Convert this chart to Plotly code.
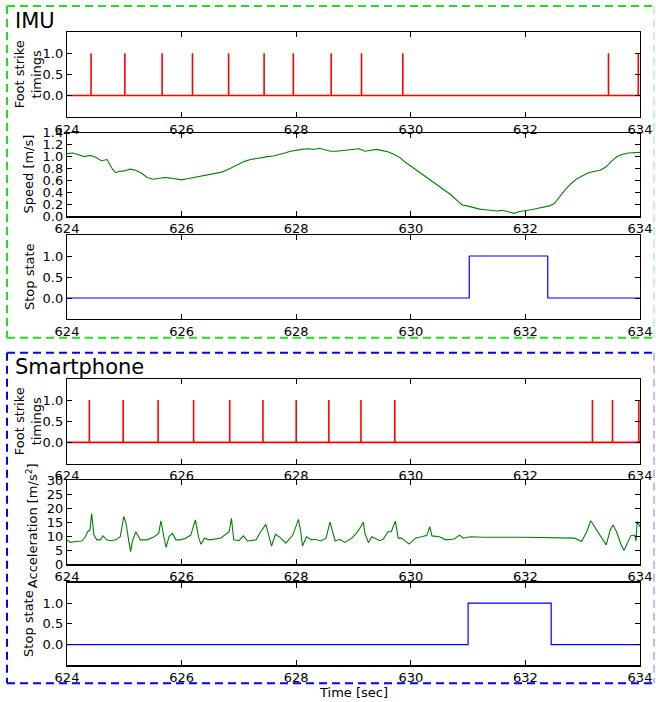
import plotly.graph_objects as go

W, H = 656, 702

# ---------------- data ----------------
x_ticks = [624, 626, 628, 630, 632, 634]

imu_strikes = [624.42, 625.01, 625.66, 626.19, 626.82, 627.44, 627.95,
               628.61, 629.14, 629.86, 633.45, 633.97]
phone_strikes = [624.39, 624.98, 625.59, 626.21, 626.84, 627.42, 628.00,
                 628.57, 629.13, 629.72, 633.17, 633.52, 633.98]

speed_t = [624.0, 624.1, 624.2, 624.3, 624.4, 624.5, 624.6, 624.7, 624.8, 624.85,
           624.9, 625.0, 625.1, 625.2, 625.3, 625.4, 625.5, 625.6, 625.7, 625.8,
           625.9, 626.0, 626.1, 626.2, 626.3, 626.4, 626.5, 626.6, 626.7, 626.8,
           626.9, 627.0, 627.1, 627.2, 627.3, 627.4, 627.5, 627.6, 627.7, 627.8,
           627.9, 628.0, 628.1, 628.2, 628.3, 628.4, 628.5, 628.6, 628.7, 628.8,
           628.9, 629.0, 629.1, 629.2, 629.3, 629.4, 629.5, 629.6, 629.7, 629.8,
           629.9, 630.0, 630.1, 630.2, 630.3, 630.4, 630.5, 630.6, 630.7, 630.8,
           630.9, 631.0, 631.1, 631.2, 631.3, 631.4, 631.5, 631.6, 631.7, 631.8,
           631.9, 632.0, 632.1, 632.2, 632.3, 632.4, 632.5, 632.6, 632.7, 632.8,
           632.9, 633.0, 633.1, 633.2, 633.3, 633.4, 633.5, 633.6, 633.7, 633.8,
           633.9, 634.0]
speed_v = [1.05, 1.06, 1.03, 1.00, 1.02, 0.99, 0.93, 0.95, 0.78, 0.73,
           0.75, 0.76, 0.79, 0.77, 0.72, 0.65, 0.62, 0.63, 0.65, 0.64,
           0.62, 0.61, 0.63, 0.65, 0.67, 0.68, 0.70, 0.72, 0.74, 0.78,
           0.83, 0.88, 0.92, 0.95, 0.97, 0.98, 1.00, 1.01, 1.03, 1.06,
           1.09, 1.11, 1.12, 1.13, 1.12, 1.14, 1.12, 1.09, 1.09, 1.10,
           1.10, 1.11, 1.13, 1.09, 1.11, 1.12, 1.10, 1.08, 1.04, 0.99,
           0.91, 0.84, 0.78, 0.71, 0.64, 0.57, 0.50, 0.43, 0.36, 0.27,
           0.19, 0.17, 0.14, 0.12, 0.11, 0.10, 0.09, 0.10, 0.07, 0.05,
           0.08, 0.09, 0.11, 0.13, 0.15, 0.17, 0.21, 0.33, 0.45, 0.55,
           0.63, 0.68, 0.73, 0.75, 0.77, 0.82, 0.92, 1.00, 1.04, 1.06,
           1.06, 1.07]

accel_t = [624.00, 624.06, 624.15, 624.26, 624.32, 624.36, 624.40, 624.43, 624.47, 624.52,
           624.58, 624.63, 624.69, 624.76, 624.85, 624.93, 624.99, 625.03, 625.08, 625.11,
           625.14, 625.20, 625.25, 625.28, 625.40, 625.52, 625.60, 625.64, 625.69, 625.73,
           625.78, 625.84, 625.90, 625.98, 626.07, 626.16, 626.24, 626.30, 626.34, 626.40,
           626.48, 626.68, 626.83, 626.87, 626.91, 627.00, 627.08, 627.15, 627.30, 627.38,
           627.47, 627.53, 627.57, 627.64, 627.73, 627.82, 627.94, 628.04, 628.08, 628.11,
           628.18, 628.27, 628.33, 628.43, 628.52, 628.59, 628.65, 628.68, 628.76, 628.85,
           628.97, 629.05, 629.11, 629.17, 629.20, 629.26, 629.32, 629.40, 629.46, 629.52,
           629.60, 629.66, 629.73, 629.78, 629.84, 629.97, 630.08, 630.19, 630.28, 630.33,
           630.37, 630.50, 630.61, 630.76, 630.85, 630.92, 631.04, 631.27, 631.50, 631.73,
           631.97, 632.20, 632.43, 632.66, 632.86, 632.98, 633.07, 633.14, 633.24, 633.33,
           633.41, 633.48, 633.53, 633.59, 633.66, 633.72, 633.78, 633.84, 633.91, 633.93,
           633.95, 634.00]
accel_v = [8.7, 7.8, 8.1, 8.3, 9.8, 11.6, 12.2, 18.1, 10.4, 8.7,
           8.7, 10.1, 8.7, 8.4, 8.7, 9.8, 17.0, 14.6, 8.1, 4.5,
           8.1, 11.6, 9.8, 8.7, 8.7, 9.8, 11.0, 15.5, 9.8, 6.0,
           9.8, 11.0, 8.7, 8.7, 9.3, 10.4, 15.8, 9.3, 7.1, 9.3,
           8.7, 9.3, 11.6, 16.4, 8.7, 8.4, 10.1, 8.3, 8.7, 11.6,
           14.2, 9.8, 6.5, 10.7, 9.3, 7.5, 10.4, 16.0, 11.5, 6.5,
           9.8, 8.7, 8.9, 8.3, 9.3, 15.0, 9.8, 8.3, 8.9, 7.8,
           9.3, 11.0, 12.8, 15.0, 11.0, 7.7, 9.8, 9.0, 8.4, 9.0,
           11.6, 11.6, 15.4, 9.3, 9.3, 7.2, 9.3, 9.8, 10.3, 13.4,
           10.1, 9.8, 8.7, 9.0, 10.4, 9.3, 9.8, 9.6, 9.5, 9.6,
           9.6, 9.5, 9.6, 9.3, 9.3, 8.1, 11.6, 15.5, 12.2, 9.3,
           6.9, 12.2, 14.0, 11.6, 7.5, 4.9, 7.5, 10.2, 10.4, 8.3,
           15.2, 13.4]

imu_stop = [631.02, 632.39]
phone_stop = [631.00, 632.45]

# ---------------- layout helpers ----------------
XDOM = [67 / W, 640 / W]
panels = [(32, 116.7), (132.7, 216.3), (235, 319), (379, 463.5), (480, 564.3), (582.5, 665.3)]


def ydom(top, bottom):
    return [1 - bottom / H, 1 - top / H]


def impulse(times):
    xs, ys = [624.0], [0.0]
    for t in times:
        xs += [t, t, t]
        ys += [0, 1, 0]
    xs.append(634.0)
    ys.append(0.0)
    return xs, ys


def step(span):
    return [624.0, span[0], span[0], span[1], span[1], 634.0], [0, 0, 1, 1, 0, 0]


fig = go.Figure()

RED, GREEN, BLUE = "#ff0000", "#008000", "#0000ff"

xs, ys = impulse(imu_strikes)
fig.add_trace(go.Scatter(x=xs, y=ys, mode="lines", line=dict(color=RED, width=1.6), xaxis="x", yaxis="y"))
fig.add_trace(go.Scatter(x=speed_t, y=speed_v, mode="lines", line=dict(color=GREEN, width=1.1), xaxis="x2", yaxis="y2"))
xs, ys = step(imu_stop)
fig.add_trace(go.Scatter(x=xs, y=ys, mode="lines", line=dict(color=BLUE, width=1.2), xaxis="x3", yaxis="y3"))
xs, ys = impulse(phone_strikes)
fig.add_trace(go.Scatter(x=xs, y=ys, mode="lines", line=dict(color=RED, width=1.6), xaxis="x4", yaxis="y4"))
fig.add_trace(go.Scatter(x=accel_t, y=accel_v, mode="lines", line=dict(color=GREEN, width=1.1), xaxis="x5", yaxis="y5"))
xs, ys = step(phone_stop)
fig.add_trace(go.Scatter(x=xs, y=ys, mode="lines", line=dict(color=BLUE, width=1.2), xaxis="x6", yaxis="y6"))

FONT = "DejaVu Sans"
layout = dict(
    width=W, height=H, margin=dict(l=0, r=0, t=0, b=0, autoexpand=False),
    paper_bgcolor="white", plot_bgcolor="white", showlegend=False,
    font=dict(family=FONT, size=13, color="black"),
)

yspecs = [
    dict(range=[-0.5, 1.5], tickvals=[0, 0.5, 1.0], ticktext=["0.0", "0.5", "1.0"]),
    dict(range=[0, 1.4], tickvals=[0, 0.2, 0.4, 0.6, 0.8, 1.0, 1.2, 1.4],
         ticktext=["0.0", "0.2", "0.4", "0.6", "0.8", "1.0", "1.2", "1.4"]),
    dict(range=[-0.5, 1.5], tickvals=[0, 0.5, 1.0], ticktext=["0.0", "0.5", "1.0"]),
    dict(range=[-0.5, 1.5], tickvals=[0, 0.5, 1.0], ticktext=["0.0", "0.5", "1.0"]),
    dict(range=[0, 30], tickvals=[0, 5, 10, 15, 20, 25, 30]),
    dict(range=[-0.5, 1.5], tickvals=[0, 0.5, 1.0], ticktext=["0.0", "0.5", "1.0"]),
]

for i, (top, bot) in enumerate(panels):
    n = "" if i == 0 else str(i + 1)
    layout["xaxis" + n] = dict(
        domain=XDOM, anchor="y" + n, range=[624, 634], tickvals=x_ticks,
        ticks="inside", ticklen=5, tickwidth=1, tickcolor="black",
        showline=True, linecolor="black", linewidth=1.2, mirror="ticks",
        showgrid=False, zeroline=False, tickfont=dict(size=13, family=FONT),
        fixedrange=True, automargin=False,
    )
    ya = dict(
        domain=ydom(top, bot), anchor="x" + n,
        ticks="inside", ticklen=5, tickwidth=1, tickcolor="black",
        showline=True, linecolor="black", linewidth=1.2, mirror="ticks",
        showgrid=False, zeroline=False, tickfont=dict(size=13, family=FONT),
        fixedrange=True, automargin=False,
    )
    ya.update(yspecs[i])
    layout["yaxis" + n] = ya

fig.update_layout(**layout)


def px(x):
    return x / W


def py(y):
    return 1 - y / H


titles = [
    ("Foot strike<br>timings", 28, (panels[0][0] + panels[0][1]) / 2),
    ("Speed [m/s]", 28, (panels[1][0] + panels[1][1]) / 2),
    ("Stop state", 29, (panels[2][0] + panels[2][1]) / 2),
    ("Foot strike<br>timings", 28, (panels[3][0] + panels[3][1]) / 2),
    ("Acceleration [m/s<sup>2</sup>]", 32, (panels[4][0] + panels[4][1]) / 2 + 4),
    ("Stop state", 29, (panels[5][0] + panels[5][1]) / 2),
]
for text, x, y in titles:
    fig.add_annotation(text=text, x=px(x), y=py(y), xref="paper", yref="paper",
                       xanchor="center", yanchor="middle", textangle=-90, showarrow=False,
                       font=dict(size=13, family=FONT, color="black"))

fig.add_annotation(text="Time [sec]", x=px(353.5), y=py(692), xref="paper", yref="paper",
                   xanchor="center", yanchor="middle", showarrow=False,
                   font=dict(size=13, family=FONT, color="black"))
fig.add_annotation(text="IMU", x=px(13), y=py(21), xref="paper", yref="paper",
                   xanchor="left", yanchor="middle", showarrow=False,
                   font=dict(size=21, family=FONT, color="black"))
fig.add_annotation(text="Smartphone", x=px(13), y=py(367), xref="paper", yref="paper",
                   xanchor="left", yanchor="middle", showarrow=False,
                   font=dict(size=21, family=FONT, color="black"))


def dashed_box(x0, y0, x1, y1, color):
    dash = "8px,5px"
    segs = [((x0, y0), (x1, y0), 1.0), ((x0, y0), (x0, y1), 1.0), ((x0, y1), (x1, y1), 1.0),
            ((x1, y0), (x1, y1), 0.25)]
    for (a, b), (c, d), op in segs:
        fig.add_shape(type="line", xref="paper", yref="paper", x0=px(a), y0=py(b), x1=px(c), y1=py(d),
                      line=dict(color=color, width=2, dash=dash), opacity=op, layer="below")


dashed_box(7, 6, 654, 337.7, "#22dd22")
dashed_box(7, 352.7, 654, 683.3, "#0000ff")

fig.write_html("out.html", config={"displayModeBar": False, "staticPlot": True},
               post_script="document.body.style.margin='0';document.body.style.overflow='hidden';")
